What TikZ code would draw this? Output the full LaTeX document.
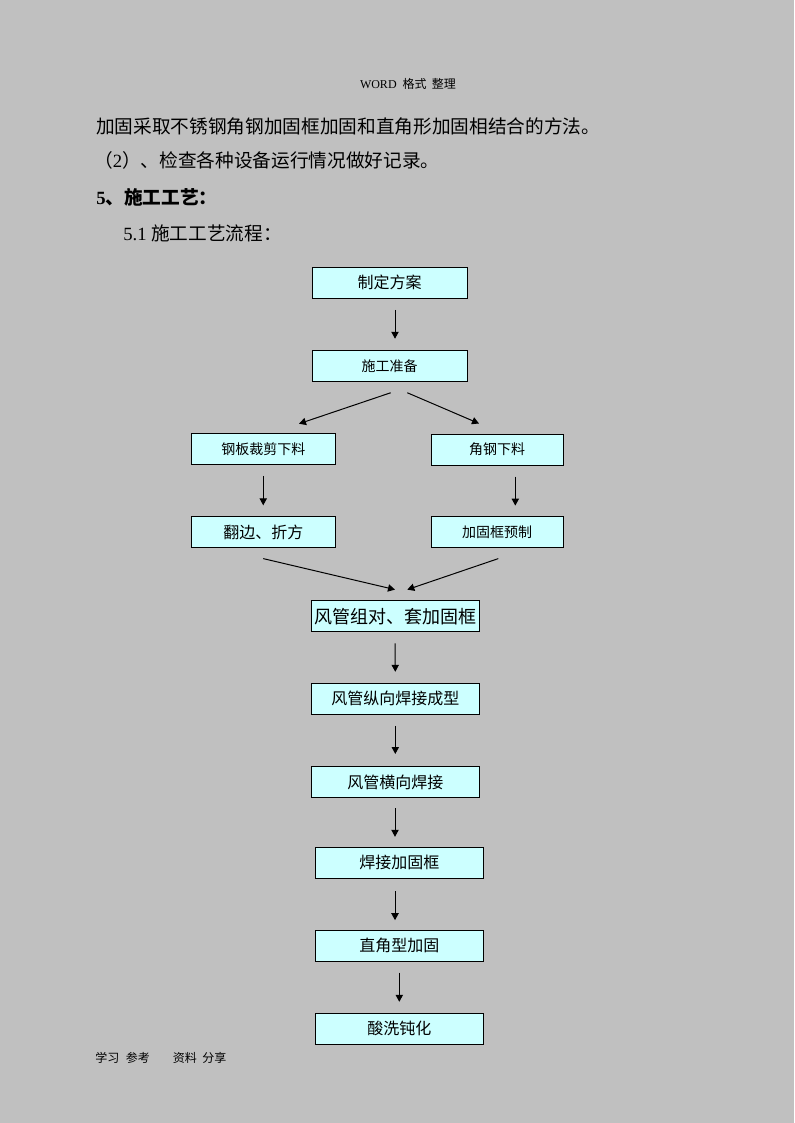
\documentclass[tikz,border=0pt]{standalone}
\usepackage{fontspec}
\setmainfont{Liberation Serif}
\newfontfamily\cjk{Noto Sans CJK SC}
\usetikzlibrary{calc}
\usetikzlibrary{arrows.meta}
\definecolor{pagegray}{HTML}{C0C0C0}
\definecolor{boxcyan}{HTML}{CCFFFF}
\tikzset{
  procbox/.style={draw, fill=boxcyan, line width=0.75pt, minimum height=23.25pt,
    inner sep=0pt, font=\cjk\fontsize{12pt}{14pt}\selectfont},
  smalltext/.style={font=\cjk\fontsize{10.5pt}{12pt}\selectfont},
  flow/.style={-{Triangle[width=5.5pt,length=5.25pt]}, line width=0.75pt},
  bodytext/.style={anchor=west, inner sep=0pt, font=\fontsize{14pt}{16pt}\selectfont},
  pagetext/.style={inner sep=0pt, font=\fontsize{9pt}{10pt}\selectfont},
}

\begin{document}
\begin{tikzpicture}[x=0.75pt, y=-0.75pt]
    % Page
    \fill[pagegray] (0,0) rectangle (794,1123);

    % Header and text above the chart
    \node[pagetext] (head) at (408,84) {WORD\hspace{4.5pt}{\cjk 格式\hspace{4pt}整理}};
    \node[bodytext] (line1) at (96,126.7) {\cjk 加固采取不锈钢角钢加固框加固和直角形加固相结合的方法。};
    \node[bodytext] (line2) at (94,160) {{\cjk （}2{\cjk ）、检查各种设备运行情况做好记录。}};
    \node[bodytext, font=\fontsize{14pt}{16pt}\selectfont\bfseries] (line3) at (96,197) {5{\cjk 、施工工艺：}};
    \node[bodytext] (line4) at (123,233) {5.1 {\cjk 施工工艺流程：}};

    % Boxes
    \node[procbox, minimum width=116.25pt] (plan) at (389.5,282.75) {制定方案};
    \node[procbox, smalltext, minimum width=116.25pt] (prep) at (389.5,365.75) {施工准备};
    \node[procbox, smalltext, minimum width=108pt] (cut) at (263.25,448.75) {钢板裁剪下料};
    \node[procbox, smalltext, minimum width=99pt] (angle) at (497,449.5) {角钢下料};
    \node[procbox, minimum width=108pt] (fold) at (263.25,532.3) {翻边、折方};
    \node[procbox, smalltext, minimum width=99pt] (frame) at (497,532.3) {加固框预制};
    \node[procbox, font=\cjk\fontsize{13.5pt}{15pt}\selectfont, minimum width=126pt] (join) at (395,616.3) {风管组对、套加固框};
    \node[procbox, minimum width=126pt] (lweld) at (395.3,698.8) {风管纵向焊接成型};
    \node[procbox, minimum width=126pt] (tweld) at (395.3,782) {风管横向焊接};
    \node[procbox, minimum width=126pt] (fweld) at (399.3,862.8) {焊接加固框};
    \node[procbox, minimum width=126pt] (rangle) at (399.3,945.8) {直角型加固};
    \node[procbox, minimum width=126pt] (pickle) at (399.3,1028.8) {酸洗钝化};

    % Arrows (they stop short of the boxes)
    \draw[flow] ($(plan.south)+(5.5,11)$) -- ($(prep.north)+(5.5,-11)$);
    \draw[flow] ($(prep.south)+(1.2,11)$) -- ($(cut.north)+(35.75,-9)$);
    \draw[flow] ($(prep.south)+(17.8,11)$) -- ($(angle.north)+(-18,-10)$);
    \draw[flow] ($(cut.south)+(0,11)$) -- ($(fold.north)+(0,-11)$);
    \draw[flow] ($(angle.south)+(18.3,11)$) -- ($(frame.north)+(18.3,-10.7)$);
    \draw[flow] ($(fold.south)+(0,10.3)$) -- ($(join.north)+(0,-10.7)$);
    \draw[flow] ($(frame.south)+(1.3,10.3)$) -- ($(join.north)+(12.3,-10.7)$);
    \draw[flow] ($(join.south)+(0,11)$) -- ($(lweld.north)+(0,-11)$);
    \draw[flow] ($(lweld.south)+(0,11)$) -- ($(tweld.north)+(0,-12)$);
    \draw[flow] ($(tweld.south)+(-0.3,10.4)$) -- ($(fweld.north)+(-4.3,-10)$);
    \draw[flow] ($(fweld.south)+(-4.3,12.4)$) -- ($(rangle.north)+(-4.3,-9.6)$);
    \draw[flow] ($(rangle.south)+(0,10.7)$) -- ($(pickle.north)+(0,-11)$);

    % Footer
    \node[pagetext, anchor=west] (foot1) at (95,1058) {\cjk 学习\hspace{5pt}参考};
    \node[pagetext, anchor=west] (foot2) at (172.7,1058) {\cjk 资料\hspace{4pt}分享};
\end{tikzpicture}
\end{document}
